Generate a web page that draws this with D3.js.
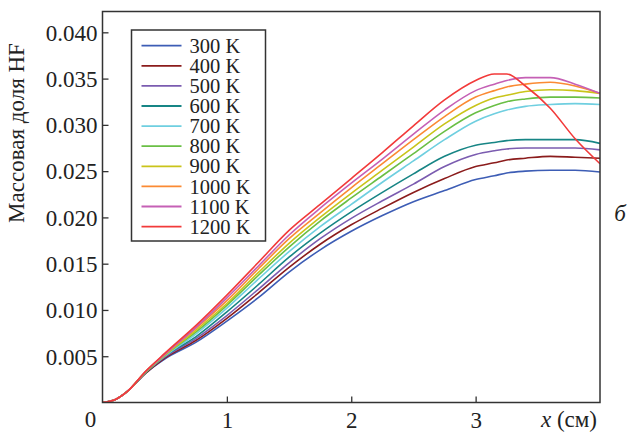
<!DOCTYPE html>
<html>
<head>
<meta charset="utf-8">
<script src="https://cdn.jsdelivr.net/npm/d3@7"></script>
<style>
  body { margin: 0; background: #fff; }
  text { font-family: "Liberation Serif", "Times New Roman", serif; fill: #222; }
</style>
</head>
<body>
<div id="chart"></div>
<script>
// x, cm
var xs = [0, 0.1, 0.2, 0.35, 0.5, 0.75, 1.0, 1.25, 1.5, 1.75, 2.0, 2.25, 2.5, 2.75, 3.0, 3.15, 3.25, 3.4, 3.6, 3.8, 4.0];

// HF mass fraction for each temperature
var t300  = [0, 0.0003, 0.0012, 0.0032, 0.0047, 0.0065, 0.0088, 0.0113, 0.0141, 0.0165, 0.0185, 0.0202, 0.0217, 0.0229, 0.0241, 0.0245, 0.0248, 0.0250, 0.0251, 0.0251, 0.0249];
var t400  = [0, 0.0003, 0.0012, 0.0032, 0.0048, 0.0067, 0.0091, 0.0118, 0.0146, 0.0171, 0.0192, 0.0210, 0.0227, 0.0242, 0.0255, 0.0259, 0.0262, 0.0264, 0.0266, 0.0265, 0.0264];
var t500  = [0, 0.0003, 0.0012, 0.0033, 0.0049, 0.0069, 0.0094, 0.0122, 0.0151, 0.0177, 0.0199, 0.0218, 0.0236, 0.0255, 0.0268, 0.0272, 0.0274, 0.0275, 0.0275, 0.0275, 0.0273];
var t600  = [0, 0.0003, 0.0012, 0.0033, 0.0050, 0.0071, 0.0098, 0.0127, 0.0157, 0.0183, 0.0206, 0.0227, 0.0247, 0.0266, 0.0278, 0.0281, 0.0283, 0.0284, 0.0284, 0.0284, 0.0280];
var t700  = [0, 0.0003, 0.0012, 0.0033, 0.0050, 0.0074, 0.0102, 0.0133, 0.0163, 0.0190, 0.0214, 0.0238, 0.0261, 0.0284, 0.0304, 0.0312, 0.0316, 0.0320, 0.0322, 0.0323, 0.0322];
var t800  = [0, 0.0003, 0.0012, 0.0033, 0.0051, 0.0076, 0.0105, 0.0137, 0.0168, 0.0196, 0.0221, 0.0245, 0.0269, 0.0293, 0.0313, 0.0321, 0.0325, 0.0328, 0.0330, 0.0330, 0.0329];
var t900  = [0, 0.0003, 0.0012, 0.0034, 0.0051, 0.0078, 0.0107, 0.0140, 0.0172, 0.0200, 0.0226, 0.0251, 0.0276, 0.0301, 0.0321, 0.0329, 0.0332, 0.0336, 0.0338, 0.0337, 0.0334];
var t1000 = [0, 0.0003, 0.0012, 0.0034, 0.0052, 0.0080, 0.0110, 0.0144, 0.0177, 0.0205, 0.0232, 0.0258, 0.0284, 0.0309, 0.0330, 0.0337, 0.0341, 0.0344, 0.0346, 0.0342, 0.0334];
var t1100 = [0, 0.0003, 0.0012, 0.0034, 0.0052, 0.0081, 0.0113, 0.0147, 0.0181, 0.0210, 0.0237, 0.0263, 0.0290, 0.0316, 0.0337, 0.0344, 0.0348, 0.0351, 0.0351, 0.0344, 0.0334];
var t1200 = [0, 0.0003, 0.0012, 0.0034, 0.0053, 0.0083, 0.0116, 0.0151, 0.0186, 0.0214, 0.0242, 0.0270, 0.0299, 0.0327, 0.0348, 0.0355, 0.0355, 0.0342, 0.0318, 0.0285, 0.0258];

var labels = ["300 K", "400 K", "500 K", "600 K", "700 K", "800 K", "900 K", "1000 K", "1100 K", "1200 K"];
var colors = ["#3d5db5", "#8b1c1c", "#7b5cb0", "#178585", "#6fcfe0", "#6abf45", "#c9c41a", "#fb8a33", "#c560b5", "#f23a3a"];
var yTicks = [0.005, 0.010, 0.015, 0.020, 0.025, 0.030, 0.035, 0.040];
var xTicks = [1, 2, 3];

var series = [t300, t400, t500, t600, t700, t800, t900, t1000, t1100, t1200];

var W = 630, H = 432;
var margin = {top: 11.5, right: 30, bottom: 29.5, left: 102.5},
    width = W - margin.left - margin.right,
    height = H - margin.top - margin.bottom;

var svg = d3.select("#chart").append("svg")
    .attr("width", W)
    .attr("height", H);

var g = svg.append("g")
    .attr("transform", `translate(${margin.left}, ${margin.top})`);

var x = d3.scaleLinear().domain([0, 4]).range([0, width]);
var y = d3.scaleLinear().domain([0, 0.04225]).range([height, 0]);

// clip so lines stay in the frame
g.append("clipPath").attr("id", "clip")
    .append("rect").attr("width", width).attr("height", height);

var line = d3.line()
    .curve(d3.curveMonotoneX)
    .x(function (d, i) { return x(xs[i]); })
    .y(function (d) { return y(d); });

g.append("g").attr("clip-path", "url(#clip)")
  .selectAll("path")
  .data(series)
  .enter().append("path")
    .attr("fill", "none")
    .attr("stroke", function (d, i) { return colors[i]; })
    .attr("stroke-width", 1.6)
    .attr("stroke-linejoin", "round")
    .attr("d", line);

// axes: ticks point inward
var yAxis = g.append("g")
    .call(d3.axisLeft(y).tickValues(yTicks).tickSizeInner(-6).tickSizeOuter(0).tickPadding(5)
        .tickFormat(d3.format(".3f")));
var xAxis = g.append("g")
    .attr("transform", `translate(0, ${height})`)
    .call(d3.axisBottom(x).tickValues(xTicks).tickSizeInner(-6).tickSizeOuter(0).tickPadding(9)
        .tickFormat(d3.format("d")));

[yAxis, xAxis].forEach(function (a) {
    a.select(".domain").remove();
    a.selectAll("line").attr("stroke", "#333").attr("stroke-width", 1.3);
    a.selectAll("text").style("font-size", "23px").attr("fill", "#222");
});
yAxis.selectAll("text").attr("dy", "0.34em");

// frame
g.append("rect")
    .attr("width", width)
    .attr("height", height)
    .attr("fill", "none")
    .attr("stroke", "#333")
    .attr("stroke-width", 1.5);

// origin label
g.append("text")
    .attr("x", -12).attr("y", height + 24)
    .attr("text-anchor", "middle")
    .style("font-size", "23px")
    .text("0");

// x axis title
var xt = g.append("text")
    .attr("x", width - 3).attr("y", height + 24)
    .attr("text-anchor", "end")
    .style("font-size", "23px");
xt.append("tspan").style("font-style", "italic").text("x");
xt.append("tspan").text(" (см)");

// y axis title
svg.append("text")
    .attr("transform", "translate(24, 133) rotate(-90)")
    .attr("text-anchor", "middle")
    .style("font-size", "23px")
    .text("Массовая доля HF");

// panel letter
svg.append("text")
    .attr("x", 620).attr("y", 221)
    .attr("text-anchor", "middle")
    .style("font-size", "23px")
    .style("font-style", "italic")
    .text("б");

// legend
var lg = svg.append("g").attr("transform", "translate(131.5, 30)");
lg.append("rect")
    .attr("width", 134).attr("height", 211)
    .attr("fill", "#fff")
    .attr("stroke", "#333")
    .attr("stroke-width", 1.5);
labels.forEach(function (lab, i) {
    var yy = 15.7 + i * 20.1;
    lg.append("line")
        .attr("x1", 10).attr("x2", 50)
        .attr("y1", yy).attr("y2", yy)
        .attr("stroke", colors[i]).attr("stroke-width", 1.8);
    lg.append("text")
        .attr("x", 58).attr("y", yy)
        .attr("dy", "0.35em")
        .style("font-size", "20.5px")
        .text(lab);
});
</script>
</body>
</html>
